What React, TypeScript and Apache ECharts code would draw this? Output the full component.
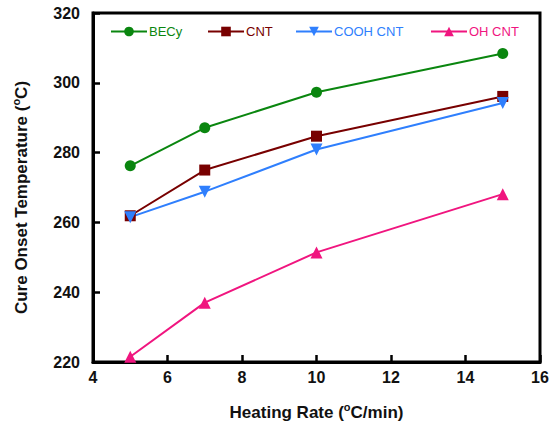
import React, { useEffect, useRef } from "react";
import * as echarts from "echarts";

const heatingRates = [5, 7, 10, 15];
const becy = [276.2, 287.1, 297.3, 308.4];
const cnt = [261.9, 275.0, 284.7, 296.1];
const coohCnt = [261.5, 268.8, 280.9, 294.2];
const ohCnt = [221.5, 237.0, 251.4, 268.1];

const seriesNames = ["BECy", "CNT", "COOH CNT", "OH CNT"];
const seriesColors = ["#0a860f", "#780000", "#2f7ffd", "#f0157f"];
const seriesSymbols = ["circle", "rect", "triangle", "triangle"];
const seriesRotate = [0, 0, 180, 0];
const seriesValues = [becy, cnt, coohCnt, ohCnt];
const legendLefts = [110, 207, 295, 430];

const FONT = "Arial, 'Liberation Sans', sans-serif";

export default function App() {
  const ref = useRef<HTMLDivElement>(null);
  useEffect(() => {
    document.body.style.margin = "0";
    const chart = echarts.init(ref.current!, null, { renderer: "svg" });
    chart.setOption({
      animation: false,
      backgroundColor: "#ffffff",
      grid: {
        left: 93,
        right: 11,
        top: 13,
        bottom: 67,
        containLabel: false,
        outerBoundsMode: "none",
        show: true,
        borderColor: "#000",
        borderWidth: 3,
        backgroundColor: "transparent",
      },
      legend: seriesNames.map((n, i) => ({
        data: [{ name: n, textStyle: { color: seriesColors[i] } }],
        left: legendLefts[i],
        top: 25,
        itemWidth: 36,
        itemHeight: 12,
        itemGap: 0,
        padding: 0,
        textStyle: { fontFamily: FONT, fontSize: 13, padding: [0, 0, 0, -3] },
      })),
      xAxis: {
        type: "value",
        min: 4,
        max: 16,
        interval: 2,
        name: "Heating Rate ({sup|o}C/min)",
        nameLocation: "middle",
        nameGap: 39,
        nameTextStyle: {
          fontFamily: FONT,
          fontSize: 17,
          fontWeight: "bold",
          color: "#111",
          rich: {
            sup: { fontFamily: FONT, fontSize: 11, fontWeight: "bold", color: "#111", padding: [0, 0, 12, 0] },
          },
        },
        axisLine: { show: true, lineStyle: { color: "#000", width: 3 } },
        axisTick: { show: true, inside: true, length: 7, lineStyle: { color: "#000", width: 2.5 } },
        axisLabel: { fontFamily: FONT, fontSize: 16, fontWeight: "bold", color: "#111", margin: 7 },
        splitLine: { show: false },
      },
      yAxis: {
        type: "value",
        min: 220,
        max: 320,
        interval: 20,
        name: "Cure Onset Temperature ({sup|o}C)",
        nameLocation: "middle",
        nameGap: 60,
        nameTextStyle: {
          fontFamily: FONT,
          fontSize: 17,
          fontWeight: "bold",
          color: "#111",
          padding: [0, 20, 0, 0],
          rich: {
            sup: { fontFamily: FONT, fontSize: 11, fontWeight: "bold", color: "#111", padding: [0, 0, 12, 0] },
          },
        },
        axisLine: { show: true, lineStyle: { color: "#000", width: 3 } },
        axisTick: { show: true, inside: true, length: 7, lineStyle: { color: "#000", width: 2.5 } },
        axisLabel: { fontFamily: FONT, fontSize: 16, fontWeight: "bold", color: "#111", margin: 13 },
        splitLine: { show: false },
      },
      series: seriesNames.map((n, i) => ({
        name: n,
        type: "line",
        data: heatingRates.map((x, j) => [x, seriesValues[i][j]]),
        symbol: seriesSymbols[i],
        symbolRotate: seriesRotate[i],
        symbolSize: i === 0 ? 11 : i === 1 ? 11 : 12,
        showAllSymbol: true,
        itemStyle: { color: seriesColors[i] },
        lineStyle: { color: seriesColors[i], width: 2 },
      })),
    });
    return () => chart.dispose();
  }, []);
  return <div ref={ref} style={{ width: 551, height: 429 }} />;
}
